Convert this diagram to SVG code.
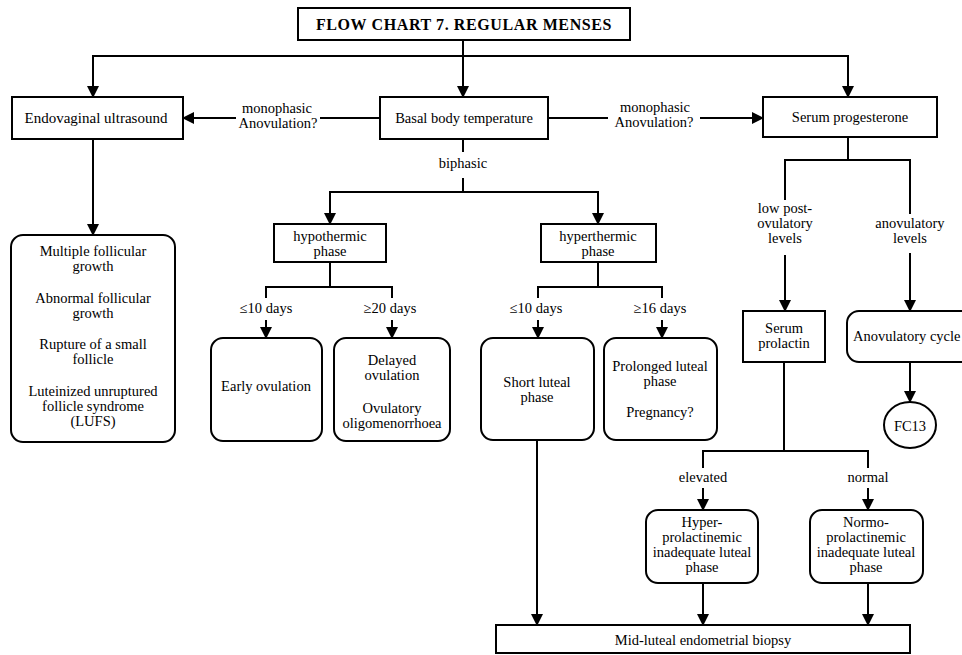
<svg xmlns="http://www.w3.org/2000/svg" width="962" height="655" viewBox="0 0 962 655">
  <defs>
    <style>
      .box { fill: #ffffff; stroke: #000000; stroke-width: 2; }
      .conn { fill: none; stroke: #000000; stroke-width: 2; }
      .arr { marker-end: url(#ah); }
      text { font-family: "Liberation Serif", "Times New Roman", serif; font-size: 14.5px; fill: #000000; text-anchor: middle; }
      .title { font-size: 16px; font-weight: bold; letter-spacing: 0.6px; }
    </style>
    <marker id="ah" viewBox="0 0 12 12" refX="11" refY="6" markerWidth="12" markerHeight="12" markerUnits="userSpaceOnUse" orient="auto">
      <path d="M0,0 L12,6 L0,12 z" fill="#000000"/>
    </marker>
  </defs>
  <rect width="962" height="655" fill="#ffffff"/>

  <!-- connectors -->
  <g id="connectors">
    <path class="conn arr" d="M463,40 V97"/>
    <path class="conn arr" d="M463,56 H93 V97"/>
    <path class="conn arr" d="M463,56 H848 V97"/>
    <path class="conn" d="M380,118 H320"/>
    <path class="conn arr" d="M236,118 H183"/>
    <path class="conn" d="M548,118 H608"/>
    <path class="conn arr" d="M700,118 H763"/>
    <path class="conn" d="M463,139 V152"/>
    <path class="conn" d="M463,178 V192"/>
    <path class="conn arr" d="M463,192 H330 V224"/>
    <path class="conn arr" d="M463,192 H598 V224"/>
    <path class="conn arr" d="M93,139 V235"/>
    <path class="conn" d="M330,262 V287"/>
    <path class="conn" d="M266,298 V287 H392 V298"/>
    <path class="conn arr" d="M266,320 V338"/>
    <path class="conn arr" d="M392,320 V338"/>
    <path class="conn" d="M598,262 V287"/>
    <path class="conn" d="M538,298 V287 H662 V298"/>
    <path class="conn arr" d="M538,320 V338"/>
    <path class="conn arr" d="M662,320 V338"/>
    <path class="conn arr" d="M537,440 V625"/>
    <path class="conn" d="M848,137 V160"/>
    <path class="conn" d="M785,200 V160 H910 V214"/>
    <path class="conn arr" d="M785,255 V311"/>
    <path class="conn arr" d="M910,253 V311"/>
    <path class="conn arr" d="M910,362 V402"/>
    <path class="conn" d="M784,362 V451"/>
    <path class="conn" d="M703,468 V451 H868 V468"/>
    <path class="conn arr" d="M703,488 V510"/>
    <path class="conn arr" d="M868,488 V510"/>
    <path class="conn arr" d="M703,583 V625"/>
    <path class="conn arr" d="M868,583 V625"/>
  </g>

  <!-- branch labels -->
  <g id="labels">
    <text x="277" y="113">monophasic</text>
    <text x="278" y="128">Anovulation?</text>
    <text x="655" y="112">monophasic</text>
    <text x="654" y="127">Anovulation?</text>
    <text x="463" y="168">biphasic</text>
    <text x="266" y="313">≤10 days</text>
    <text x="390" y="313">≥20 days</text>
    <text x="536" y="313">≤10 days</text>
    <text x="660" y="313">≥16 days</text>
    <text x="785" y="213">low post-</text>
    <text x="785" y="228">ovulatory</text>
    <text x="785" y="243">levels</text>
    <text x="910" y="228">anovulatory</text>
    <text x="910" y="243">levels</text>
    <text x="703" y="482">elevated</text>
    <text x="868" y="482">normal</text>
  </g>

  <g id="title">
    <rect class="box" x="298" y="8" width="332" height="32"/>
    <text class="title" x="464" y="30">FLOW CHART 7. REGULAR MENSES</text>
  </g>

  <g id="endovaginal">
    <rect class="box" x="12" y="97" width="171" height="42"/>
    <text x="96" y="123" style="font-size:15px">Endovaginal ultrasound</text>
  </g>

  <g id="bbt">
    <rect class="box" x="380" y="97" width="168" height="42"/>
    <text x="464" y="123">Basal body temperature</text>
  </g>

  <g id="progesterone">
    <rect class="box" x="763" y="97" width="174" height="40"/>
    <text x="850" y="122">Serum progesterone</text>
  </g>

  <g id="ultrasound-findings">
    <rect class="box" x="11" y="235" width="164" height="207" rx="12"/>
    <text x="93" y="256">Multiple follicular</text>
    <text x="93" y="271">growth</text>
    <text x="93" y="303">Abnormal follicular</text>
    <text x="93" y="318">growth</text>
    <text x="93" y="349">Rupture of a small</text>
    <text x="93" y="364">follicle</text>
    <text x="93" y="396">Luteinized unruptured</text>
    <text x="93" y="411">follicle syndrome</text>
    <text x="93" y="426">(LUFS)</text>
  </g>

  <g id="hypothermic">
    <rect class="box" x="274" y="224" width="112" height="38"/>
    <text x="330" y="241">hypothermic</text>
    <text x="330" y="256">phase</text>
  </g>

  <g id="hyperthermic">
    <rect class="box" x="541" y="224" width="115" height="38"/>
    <text x="598" y="241">hyperthermic</text>
    <text x="598" y="256">phase</text>
  </g>

  <g id="early-ovulation">
    <rect class="box" x="211" y="338" width="111" height="103" rx="12"/>
    <text x="266" y="391">Early ovulation</text>
  </g>

  <g id="delayed-ovulation">
    <rect class="box" x="334" y="338" width="116" height="103" rx="12"/>
    <text x="392" y="365">Delayed</text>
    <text x="392" y="380">ovulation</text>
    <text x="392" y="413">Ovulatory</text>
    <text x="392" y="428">oligomenorrhoea</text>
  </g>

  <g id="short-luteal">
    <rect class="box" x="481" y="338" width="113" height="102" rx="12"/>
    <text x="537" y="387">Short luteal</text>
    <text x="537" y="402">phase</text>
  </g>

  <g id="prolonged-luteal">
    <rect class="box" x="604" y="338" width="113" height="102" rx="12"/>
    <text x="660" y="371">Prolonged luteal</text>
    <text x="660" y="386">phase</text>
    <text x="660" y="417">Pregnancy?</text>
  </g>

  <g id="prolactin">
    <rect class="box" x="743" y="311" width="82" height="51"/>
    <text x="784" y="333">Serum</text>
    <text x="784" y="348">prolactin</text>
  </g>

  <g id="anovulatory-cycle">
    <rect class="box" x="847" y="311" width="140" height="51" rx="12"/>
    <text x="853" y="341" style="text-anchor:start">Anovulatory cycle</text>
  </g>

  <g id="fc13">
    <ellipse class="box" cx="910" cy="425" rx="26" ry="23"/>
    <text x="910" y="431">FC13</text>
  </g>

  <g id="hyperprolactinemic">
    <rect class="box" x="646" y="510" width="112" height="73" rx="12"/>
    <text x="702" y="527">Hyper-</text>
    <text x="702" y="542">prolactinemic</text>
    <text x="702" y="557">inadequate luteal</text>
    <text x="702" y="572">phase</text>
  </g>

  <g id="normoprolactinemic">
    <rect class="box" x="810" y="510" width="113" height="73" rx="12"/>
    <text x="866" y="527">Normo-</text>
    <text x="866" y="542">prolactinemic</text>
    <text x="866" y="557">inadequate luteal</text>
    <text x="866" y="572">phase</text>
  </g>

  <g id="biopsy">
    <rect class="box" x="496" y="625" width="414" height="28"/>
    <text x="703" y="645">Mid-luteal endometrial biopsy</text>
  </g>
</svg>
